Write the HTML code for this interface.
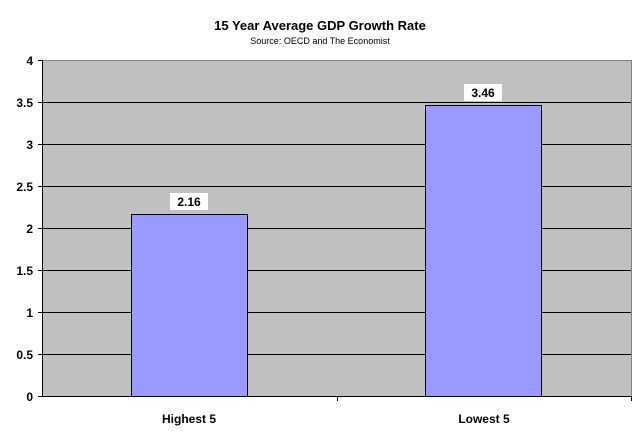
<!DOCTYPE html>
<html><head><style>body{margin:0;background:#fff}</style></head><body>
<svg width="640" height="438" xmlns="http://www.w3.org/2000/svg" font-family="Liberation Sans, Arial, sans-serif">
<text x="320" y="30" text-anchor="middle" font-size="13" font-weight="bold">15 Year Average GDP Growth Rate</text>
<text x="320" y="44" text-anchor="middle" font-size="9">Source: OECD and The Economist</text>
<rect x="42" y="60" width="590" height="336" fill="#c0c0c0"/>
<g stroke="#000" stroke-width="1">
<line x1="42" x2="632" y1="102.5" y2="102.5"/>
<line x1="42" x2="632" y1="144.5" y2="144.5"/>
<line x1="42" x2="632" y1="186.5" y2="186.5"/>
<line x1="42" x2="632" y1="228.5" y2="228.5"/>
<line x1="42" x2="632" y1="270.5" y2="270.5"/>
<line x1="42" x2="632" y1="312.5" y2="312.5"/>
<line x1="42" x2="632" y1="354.5" y2="354.5"/>
</g>
<line x1="42" x2="632" y1="60.5" y2="60.5" stroke="#808080"/>
<line x1="631.5" x2="631.5" y1="60" y2="396" stroke="#808080"/>
<rect x="131.5" y="214.5" width="116" height="182" fill="#9999ff" stroke="#000"/>
<rect x="425.5" y="105.5" width="116" height="291" fill="#9999ff" stroke="#000"/>
<g stroke="#000">
<line x1="42.5" x2="42.5" y1="60" y2="397"/>
<line x1="38" x2="632" y1="396.5" y2="396.5"/>
<line x1="38" x2="42" y1="60.5" y2="60.5"/><line x1="38" x2="42" y1="102.5" y2="102.5"/>
<line x1="38" x2="42" y1="144.5" y2="144.5"/><line x1="38" x2="42" y1="186.5" y2="186.5"/>
<line x1="38" x2="42" y1="228.5" y2="228.5"/><line x1="38" x2="42" y1="270.5" y2="270.5"/>
<line x1="38" x2="42" y1="312.5" y2="312.5"/><line x1="38" x2="42" y1="354.5" y2="354.5"/>
<line x1="337.5" x2="337.5" y1="396" y2="401"/><line x1="631.5" x2="631.5" y1="396" y2="401"/>
</g>
<g font-size="12" font-weight="bold" text-anchor="end">
<text x="33" y="65">4</text><text x="33" y="107">3.5</text><text x="33" y="149">3</text>
<text x="33" y="191">2.5</text><text x="33" y="233">2</text><text x="33" y="275">1.5</text>
<text x="33" y="317">1</text><text x="33" y="359">0.5</text><text x="33" y="401">0</text>
</g>
<g font-size="12" font-weight="bold" text-anchor="middle">
<text x="189" y="423">Highest 5</text><text x="484" y="423">Lowest 5</text>
</g>
<rect x="170" y="193" width="38" height="17" fill="#fff"/>
<rect x="464" y="84" width="38" height="17" fill="#fff"/>
<g font-size="12" font-weight="bold" text-anchor="middle">
<text x="189" y="206">2.16</text><text x="483" y="97">3.46</text>
</g>
</svg>
</body></html>
